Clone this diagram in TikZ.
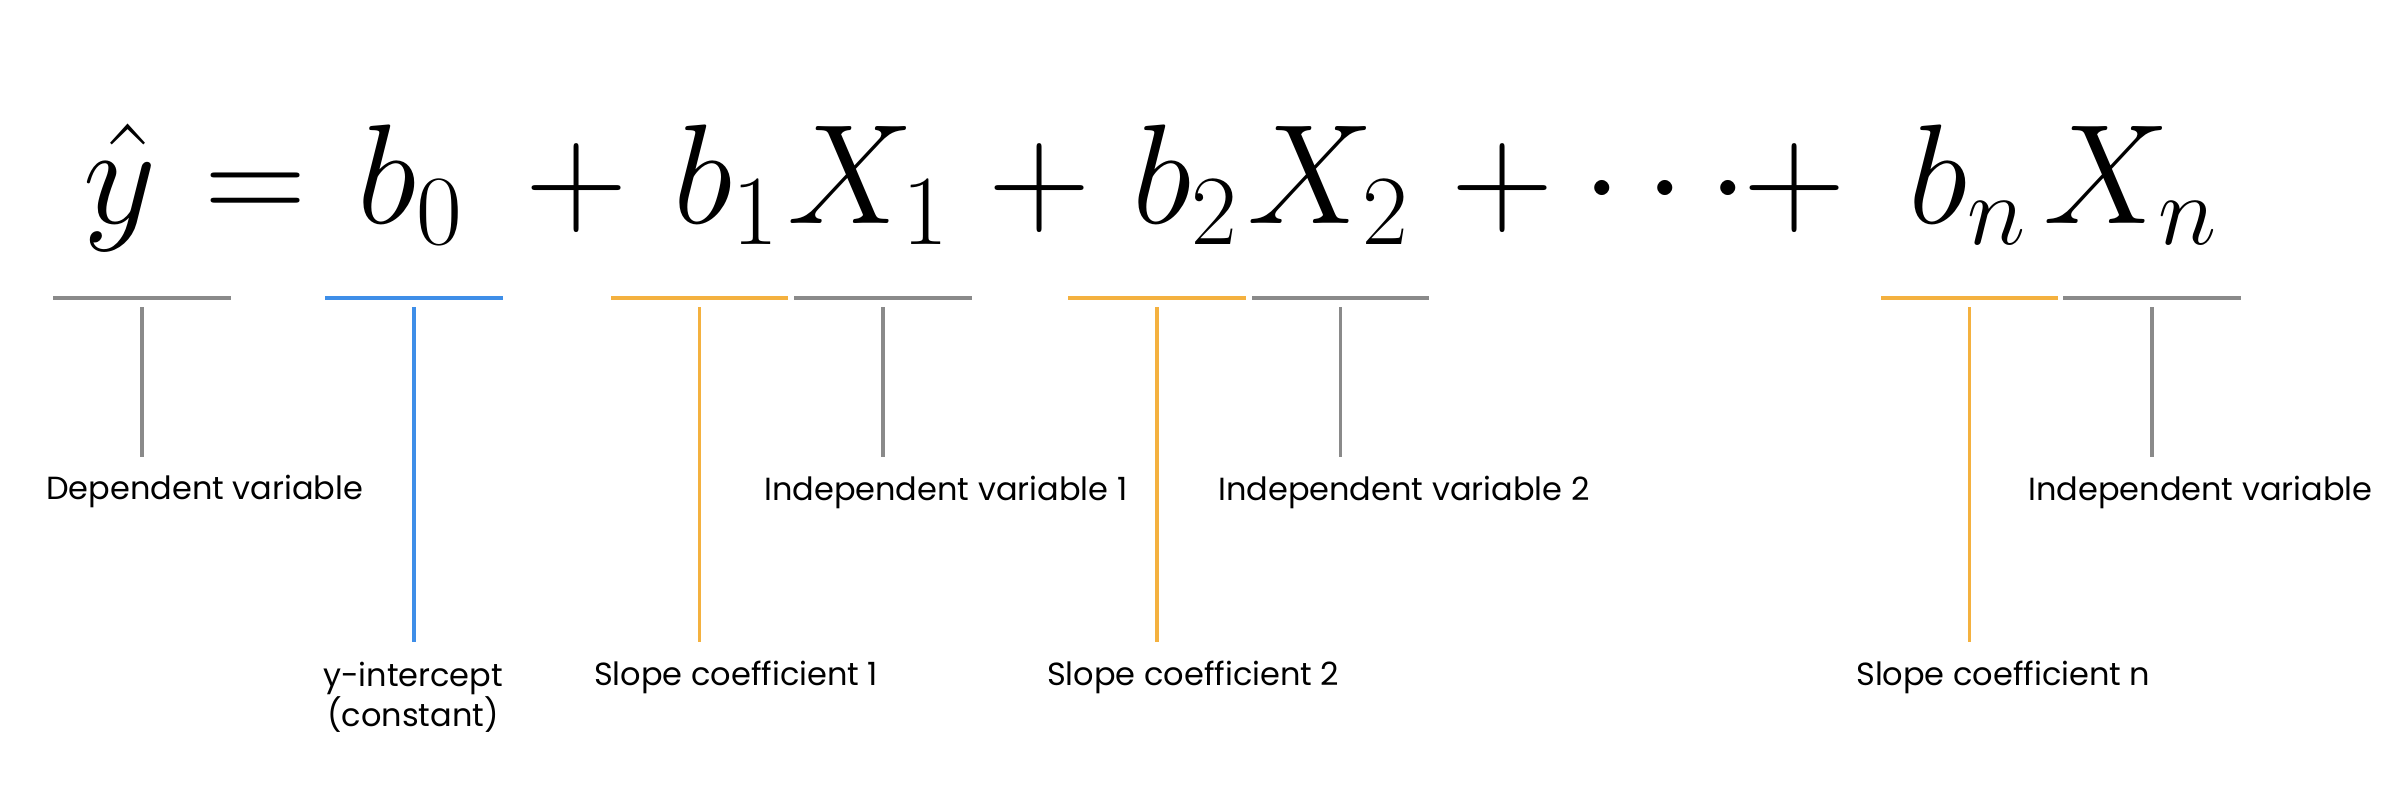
\RequirePackage{fix-cm}
\documentclass[tikz,border=0pt]{standalone}
\usepackage[no-math]{fontspec}
\newfontfamily\labfont{Poppins}
\definecolor{lgray}{HTML}{8A8A8A}
\definecolor{lblue}{HTML}{3E8EE8}
\definecolor{lorange}{HTML}{F4B13F}
\begin{document}
\begin{tikzpicture}[x=1pt,y=-1pt,
  bar/.style={line width=4pt},
  stem/.style={line width=3.5pt},
  lab/.style={font=\labfont\fontsize{32}{40}\selectfont, anchor=west, inner sep=0pt},
  mth/.style={font=\fontsize{142}{150}\selectfont, anchor=base, inner sep=0pt}]
\path[use as bounding box, fill=white] (0,0) rectangle (2382,796);
% equation
\node[mth] (yhat) at (120,223) {$\hat{y}$};
\node[mth] (eq) at (256,223) {$=$};
\node[mth] (b0) at (410,223) {$b_0$};
\node[mth] (p1) at (577,223) {$+$};
\node[mth] (b1) at (726,223) {$b_1$};
\node[mth] (X1) at (868,223) {$X_1$};
\node[mth] (p2) at (1040,223) {$+$};
\node[mth] (b2) at (1185,223) {$b_2$};
\node[mth] (X2) at (1328,223) {$X_2$};
\node[mth] (p3) at (1503,223) {$+$};
\node[mth] (dots) at (1665,223) {$\cdots$};
\node[mth] (p4) at (1795,223) {$+$};
\node[mth] (bn) at (1967,223) {$b_n$};
\node[mth] (Xn) at (2130,223) {$X_n$};
% brackets
\foreach \a/\b/\len/\col in {53/231/150/lgray, 325/503/335/lblue, 611/788/335/lorange, 794/972/150/lgray, 1068/1246/335/lorange, 1252/1429/150/lgray, 1881/2058/335/lorange, 2063/2241/150/lgray}{
  \coordinate (L\a) at (\a,298);
  \coordinate (R\a) at (\b,298);
  \coordinate (S\a) at ({(\a+\b)/2},307);
  \draw[bar,\col] (L\a) -- (R\a);
  \draw[stem,\col] (S\a) -- ++(0,\len);
}
% labels
\node[lab] (ldep) at (46,491) {Dependent variable};
\node[lab] (lind1) at (764,492) {Independent variable 1};
\node[lab] (lind2) at (1218,492) {Independent variable 2};
\node[lab] (lindn) at (2028,492) {Independent variable};
\node[lab, anchor=center, align=center] (lint) at (413,697) {y-intercept\\(constant)};
\node[lab] (ls1) at (594,677) {Slope coefficient 1};
\node[lab] (ls2) at (1047,677) {Slope coefficient 2};
\node[lab] (lsn) at (1856,677) {Slope coefficient n};
\end{tikzpicture}
\end{document}
